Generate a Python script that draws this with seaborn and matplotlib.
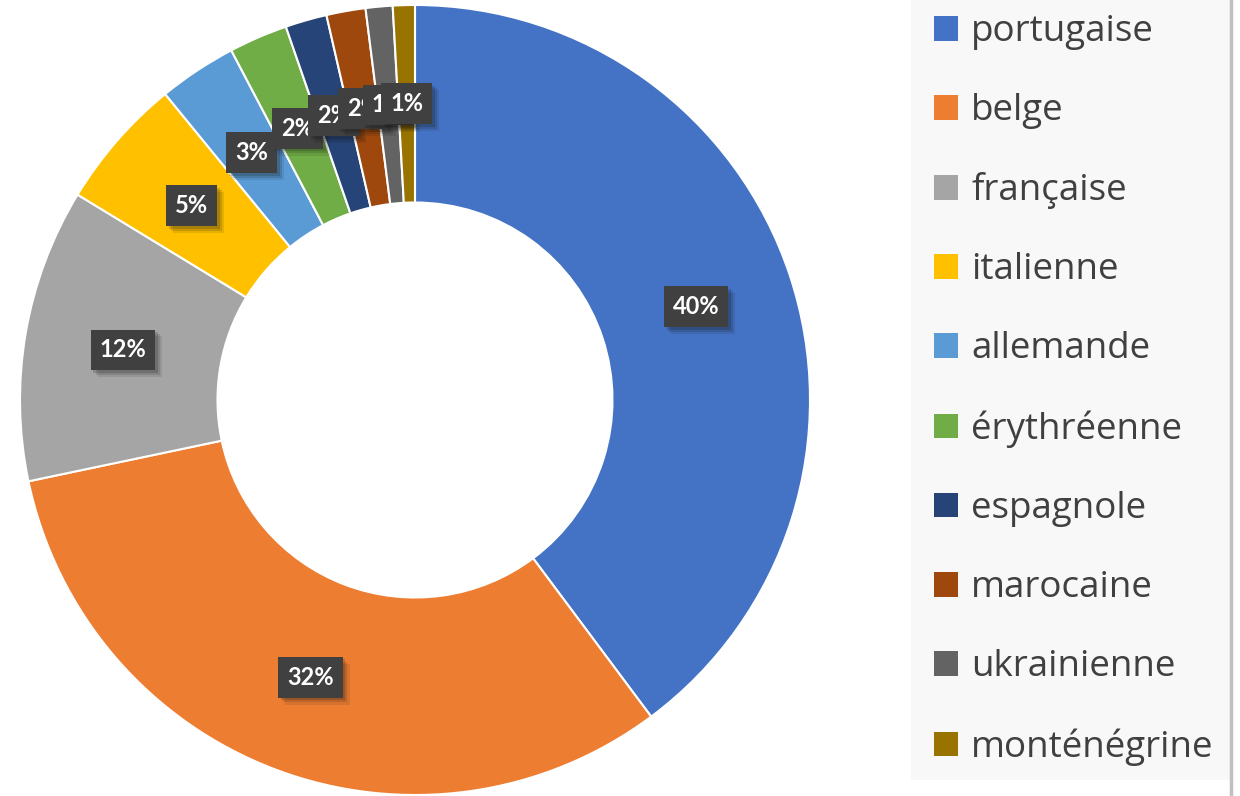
import matplotlib
matplotlib.use("Agg")
import matplotlib.pyplot as plt
import matplotlib.patheffects as pe
from matplotlib.patches import Patch, Rectangle
from matplotlib.lines import Line2D
import seaborn as sns

# nationalities and their share (%)
labels = ["portugaise", "belge", "française", "italienne", "allemande",
          "érythréenne", "espagnole", "marocaine", "ukrainienne", "monténégrine"]
values = [39.8, 31.9, 12.0, 5.4, 3.2, 2.4, 1.7, 1.6, 1.1, 0.9]
colors = ["#4472C4", "#ED7D31", "#A5A5A5", "#FFC000", "#5B9BD5",
          "#70AD47", "#264478", "#9E480E", "#636363", "#997300"]

sns.set_theme(style="white")
plt.rcParams["font.family"] = ["Lato", "DejaVu Sans"]

fig = plt.figure(figsize=(12.4, 7.96), dpi=100)
W, H = 1240, 796
ax = fig.add_axes([20 / W, 1 / H, 790 / W, 790 / H])

wedges, texts, autotexts = ax.pie(
    values, colors=colors, startangle=90, counterclock=False,
    radius=1, wedgeprops=dict(width=0.5, edgecolor="white", linewidth=1.5),
    autopct=lambda p: f"{p:.0f}%", pctdistance=0.75,
)
ax.set_xlim(-1, 1)
ax.set_ylim(-1, 1)
ax.set_aspect("equal")

for t in autotexts:
    t.set_color("white")
    t.set_fontsize(17)
    t.set_fontweight("bold")
    t.set_bbox(dict(boxstyle="square,pad=0.38", facecolor="#404040",
                    edgecolor="none", linewidth=0))
    t.get_bbox_patch().set_path_effects([
        pe.SimplePatchShadow(offset=(5, -5), alpha=0.10),
        pe.SimplePatchShadow(offset=(3.5, -3.5), alpha=0.14),
        pe.SimplePatchShadow(offset=(2, -2), alpha=0.18),
        pe.Normal()])

# legend panel
fig.patches.append(Rectangle((911 / W, 16 / H), (1230 - 911) / W, 1 - 16 / H,
                             transform=fig.transFigure, facecolor="#f8f8f8",
                             edgecolor="none", zorder=0))
fig.lines.append(Line2D([1231 / W, 1231 / W], [0, 1], transform=fig.transFigure,
                        color="#c0c0c0", linewidth=2.5))

handles = [Patch(facecolor=c, edgecolor="none") for c in colors]
leg = fig.legend(handles, labels, loc="upper left",
                 bbox_to_anchor=(894 / W, 1.033), frameon=False,
                 prop={"family": ["Open Sans", "DejaVu Sans"], "size": 26.5},
                 labelcolor="#404040",
                 handlelength=0.65, handleheight=0.65, handletextpad=0.35,
                 labelspacing=1.17, borderpad=0.6)

fig.savefig("out.png", dpi=100)
